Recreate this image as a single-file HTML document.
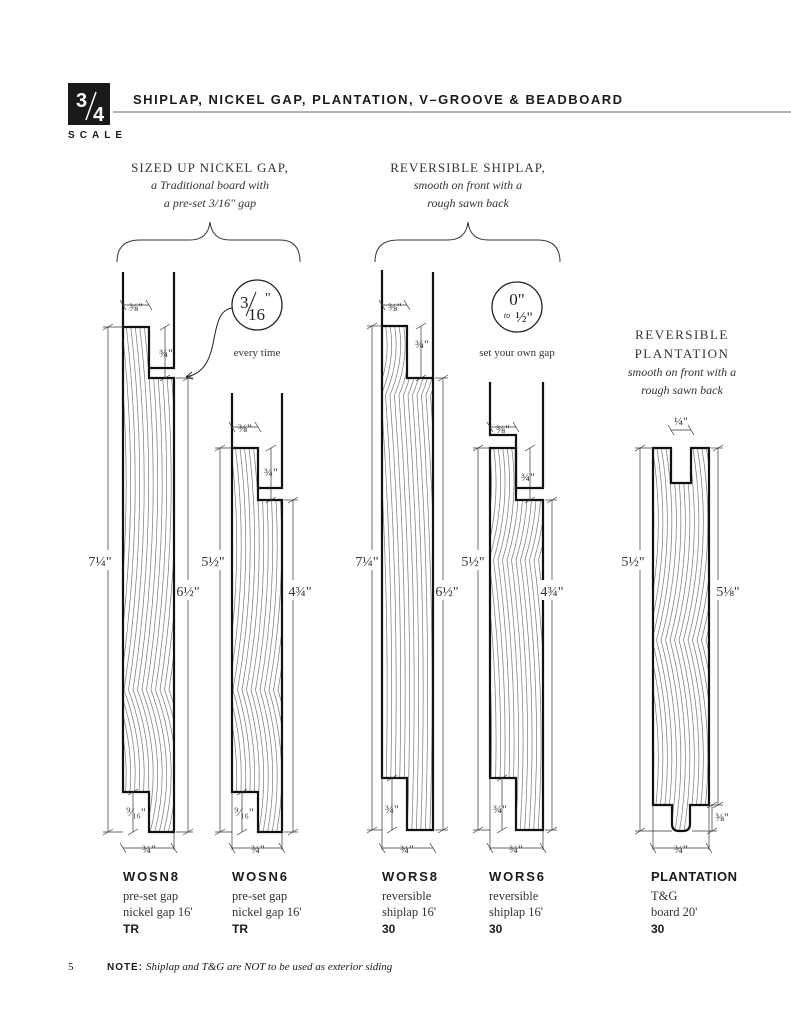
<!DOCTYPE html>
<html><head><meta charset="utf-8"><style>
html,body{margin:0;padding:0;background:#fff;}
svg{display:block}
.serif{font-family:"Liberation Serif",serif;}
.hd{font-family:"Liberation Sans",sans-serif;font-weight:bold;}
</style></head><body>
<svg id="s" width="791" height="1024" viewBox="0 0 791 1024" xmlns="http://www.w3.org/2000/svg">
<defs>
<clipPath id="c1"><path d="M123,327H149V378H174V832H149V792H123Z"/></clipPath>
<clipPath id="c2"><path d="M232,448H258V500H282V832H258V792H232Z"/></clipPath>
<clipPath id="c3"><path d="M382,326H407V378H433V830H407V778H382Z"/></clipPath>
<clipPath id="c4"><path d="M490,448H516V500H543V830H516V778H490Z"/></clipPath>
<clipPath id="c5"><path d="M653,448H671V483H691V448H709V805H690V824Q690,831 683,831H679Q672,831 672,824V805H653Z"/></clipPath>
</defs>
<!-- header -->
<rect x="68" y="83" width="42" height="42" fill="#1a1a1a"/>
<text x="76" y="107" fill="#fff" class="hd" font-size="20">3</text>
<line x1="86" y1="120" x2="96" y2="92" stroke="#fff" stroke-width="1.5"/>
<text x="93" y="121" fill="#fff" class="hd" font-size="20">4</text>
<text x="133" y="104" class="hd" font-size="13" textLength="489" lengthAdjust="spacing" fill="#1a1a1a">SHIPLAP, NICKEL GAP, PLANTATION, V–GROOVE &amp; BEADBOARD</text>
<line x1="113" y1="112" x2="791" y2="112" stroke="#999" stroke-width="1.5"/>
<text x="68" y="138" class="hd" font-size="10" textLength="54" lengthAdjust="spacing" fill="#1a1a1a">SCALE</text>
<!-- section titles -->
<g class="serif" fill="#333" text-anchor="middle">
<text x="210" y="172" font-size="13" letter-spacing="1">SIZED UP NICKEL GAP,</text>
<text x="210" y="189" font-size="12" font-style="italic">a Traditional board with</text>
<text x="210" y="207" font-size="12" font-style="italic">a pre-set 3/16" gap</text>
<text x="468" y="172" font-size="13" letter-spacing="1">REVERSIBLE SHIPLAP,</text>
<text x="468" y="189" font-size="12" font-style="italic">smooth on front with a</text>
<text x="468" y="207" font-size="12" font-style="italic">rough sawn back</text>
<text x="682" y="339" font-size="13" letter-spacing="1.5">REVERSIBLE</text>
<text x="682" y="358" font-size="13" letter-spacing="1.5">PLANTATION</text>
<text x="682" y="376" font-size="12" font-style="italic">smooth on front with a</text>
<text x="682" y="394" font-size="12" font-style="italic">rough sawn back</text>
<text x="257" y="356" font-size="11">every time</text>
<text x="517" y="356" font-size="11">set your own gap</text>
</g>
<!-- braces -->
<g fill="none" stroke="#333" stroke-width="1">
<path d="M117,262 Q117,240 140,240 H190 Q208,240 210,222 Q212,240 230,240 H280 Q300,240 300,262"/>
<path d="M375,262 Q375,240 398,240 H448 Q466,240 468,222 Q470,240 488,240 H538 Q560,240 560,262"/>
</g>
<!-- circles -->
<circle cx="257" cy="305" r="25" fill="none" stroke="#222" stroke-width="1.3"/>
<g class="serif" fill="#222">
<text x="240" y="308" font-size="17">3</text>
<line x1="246" y1="316" x2="256" y2="292" stroke="#222" stroke-width="1"/>
<text x="248" y="320" font-size="17">16</text>
<text x="265" y="302" font-size="14">"</text>
</g>
<path d="M232,308 C205,312 225,370 186,377" fill="none" stroke="#222" stroke-width="1"/>
<path d="M186,377 l6,-5 M186,377 l7,2" stroke="#222" stroke-width="1"/>
<circle cx="517" cy="307" r="25" fill="none" stroke="#222" stroke-width="1.3"/>
<text x="517" y="305" text-anchor="middle" class="serif" font-size="17" fill="#222">0"</text>
<text x="507" y="318" text-anchor="middle" class="serif" font-size="8" font-style="italic" fill="#222">to</text>
<text x="524" y="322" text-anchor="middle" class="serif" font-size="15" fill="#222">½"</text>
<g id="grain" fill="none" stroke="#777" stroke-width="0.7"></g>
<!-- outlines -->
<g fill="none" stroke="#111" stroke-width="2.2">
<path d="M123,272V327M174,272V368H149"/>
<path d="M123,327H149V378H174V832H149V792H123Z"/>
<path d="M232,393V448M282,393V488H258"/>
<path d="M232,448H258V500H282V832H258V792H232Z"/>
<path d="M382,270V326M433,272V378"/>
<path d="M382,326H407V378H433V830H407V778H382Z"/>
<path d="M490,382V435H516V488H543V382"/>
<path d="M490,448H516V500H543V830H516V778H490Z"/>
<path d="M653,448H671V483H691V448H709V805H690V824Q690,831 683,831H679Q672,831 672,824V805H653Z"/>
</g>
<g id="dims" stroke="#333" stroke-width="0.7" fill="none"></g>
<g class="serif" fill="#333">
<rect x="88" y="550" width="24" height="20" fill="#fff"/>
<rect x="176" y="580" width="24" height="20" fill="#fff"/>
<rect x="201" y="550" width="24" height="20" fill="#fff"/>
<rect x="288" y="580" width="24" height="20" fill="#fff"/>
<rect x="355" y="550" width="24" height="20" fill="#fff"/>
<rect x="435" y="580" width="24" height="20" fill="#fff"/>
<rect x="461" y="550" width="24" height="20" fill="#fff"/>
<rect x="540" y="580" width="24" height="20" fill="#fff"/>
<rect x="621" y="550" width="24" height="20" fill="#fff"/>
<rect x="716" y="580" width="24" height="20" fill="#fff"/>
<text x="100" y="566" text-anchor="middle" font-size="14">7¼"</text>
<text x="188" y="596" text-anchor="middle" font-size="14">6½"</text>
<text x="213" y="566" text-anchor="middle" font-size="14">5½"</text>
<text x="300" y="596" text-anchor="middle" font-size="14">4¾"</text>
<text x="367" y="566" text-anchor="middle" font-size="14">7¼"</text>
<text x="447" y="596" text-anchor="middle" font-size="14">6½"</text>
<text x="473" y="566" text-anchor="middle" font-size="14">5½"</text>
<text x="552" y="596" text-anchor="middle" font-size="14">4¾"</text>
<text x="633" y="566" text-anchor="middle" font-size="14">5½"</text>
<text x="728" y="596" text-anchor="middle" font-size="14">5⅛"</text>
<g font-size="12">
<text x="136" y="311" text-anchor="middle">⅜"</text>
<text x="166" y="357" text-anchor="middle">¾"</text>
<text x="136" y="816" text-anchor="middle">⁹⁄₁₆"</text>
<text x="149" y="853" text-anchor="middle">¾"</text>
<text x="245" y="432" text-anchor="middle">⅜"</text>
<text x="271" y="476" text-anchor="middle">¾"</text>
<text x="244" y="816" text-anchor="middle">⁹⁄₁₆"</text>
<text x="258" y="853" text-anchor="middle">¾"</text>
<text x="395" y="311" text-anchor="middle">⅜"</text>
<text x="422" y="348" text-anchor="middle">¾"</text>
<text x="392" y="813" text-anchor="middle">¾"</text>
<text x="407" y="853" text-anchor="middle">¾"</text>
<text x="503" y="433" text-anchor="middle">⅜"</text>
<text x="528" y="481" text-anchor="middle">¾"</text>
<text x="500" y="813" text-anchor="middle">¾"</text>
<text x="516" y="853" text-anchor="middle">¾"</text>
<text x="681" y="425" text-anchor="middle">¼"</text>
<text x="722" y="821" text-anchor="middle">⅜"</text>
<text x="681" y="853" text-anchor="middle">¾"</text>
</g>
</g>
<!-- product labels -->
<g fill="#1a1a1a">
<g class="hd" font-size="13">
<text x="123" y="881" textLength="55" lengthAdjust="spacing">WOSN8</text>
<text x="232" y="881" textLength="55" lengthAdjust="spacing">WOSN6</text>
<text x="382" y="881" textLength="55" lengthAdjust="spacing">WORS8</text>
<text x="489" y="881" textLength="55" lengthAdjust="spacing">WORS6</text>
<text x="651" y="881" textLength="86" lengthAdjust="spacing">PLANTATION</text>
</g>
<g class="serif" font-size="12.5" fill="#333">
<text x="123" y="900">pre-set gap</text><text x="123" y="916">nickel gap  16'</text>
<text x="232" y="900">pre-set gap</text><text x="232" y="916">nickel gap  16'</text>
<text x="382" y="900">reversible</text><text x="382" y="916">shiplap  16'</text>
<text x="489" y="900">reversible</text><text x="489" y="916">shiplap  16'</text>
<text x="651" y="900">T&amp;G</text><text x="651" y="916">board 20'</text>
</g>
<g class="hd" font-size="12">
<text x="123" y="933">TR</text><text x="232" y="933">TR</text>
<text x="382" y="933">30</text><text x="489" y="933">30</text><text x="651" y="933">30</text>
</g>
<text x="68" y="970" class="serif" font-size="11">5</text>
<text x="107" y="970" class="hd" font-size="10" textLength="35" lengthAdjust="spacing">NOTE:</text>
<text x="146" y="970" class="serif" font-size="11" font-style="italic">Shiplap and T&amp;G are NOT to be used as exterior siding</text>
</g>
</svg>
<script>
var NS="http://www.w3.org/2000/svg";
var g=document.getElementById('grain');
function grain(id,x0,x1,y0,y1,cy,bow,kink){
 var grp=document.createElementNS(NS,'g');grp.setAttribute('clip-path','url(#'+id+')');
 for(var x=x0-20;x<x1+20;x+=4.5){
  var d='M'+x+','+y0+' Q'+(x+bow)+','+((y0+cy)/2)+' '+(x+kink)+','+cy+' Q'+(x+bow)+','+((cy+y1)/2)+' '+x+','+y1;
  var p=document.createElementNS(NS,'path');p.setAttribute('d',d);grp.appendChild(p);
 }
 g.appendChild(grp);
}
grain('c1',123,174,320,840,690,22,-6);
grain('c2',232,282,440,840,690,16,-6);
grain('c3',382,433,320,840,395,8,-8);
grain('c4',490,543,440,840,560,10,-8);
grain('c5',653,709,440,840,640,18,-8);
var dg=document.getElementById('dims');
function L(a,b,c,d){var l=document.createElementNS(NS,'line');l.setAttribute('x1',a);l.setAttribute('y1',b);l.setAttribute('x2',c);l.setAttribute('y2',d);dg.appendChild(l);}
function V(x,y0,y1){L(x,y0,x,y1);L(x-5,y0+3,x+5,y0-3);L(x-5,y1+3,x+5,y1-3);}
function H(y,x0,x1){L(x0,y,x1,y);L(x0-3,y-5,x0+3,y+5);L(x1-3,y-5,x1+3,y+5);}
V(108,327,832);L(103,327,123,327);L(103,832,123,832);
V(188,378,832);L(176,378,193,378);L(176,832,193,832);
H(305,123,149);V(165,327,378);V(133,792,832);H(848,123,174);L(174,832,174,850);
V(220,448,832);L(215,448,232,448);L(215,832,232,832);
V(293,500,832);L(284,500,298,500);L(284,832,298,832);
H(427,232,258);V(271,448,500);V(242,792,832);H(848,232,282);L(282,832,282,850);L(232,792,232,850);
V(372,326,830);L(367,326,382,326);L(367,830,382,830);
V(443,378,830);L(435,378,448,378);L(435,830,448,830);
H(305,382,407);V(421,326,378);V(392,778,830);H(848,382,433);L(382,778,382,850);
V(478,448,830);L(473,448,490,448);L(473,830,490,830);
V(552,500,830);L(545,500,557,500);L(545,830,557,830);
H(427,490,516);V(530,448,500);V(502,778,830);H(848,490,543);L(490,778,490,850);L(543,830,543,850);
V(640,448,831);L(635,448,653,448);L(635,831,672,831);
V(718,448,805);L(711,448,723,448);L(711,805,723,805);V(712,805,831);L(692,831,717,831);
H(430,671,691);H(848,653,709);L(653,805,653,850);L(709,805,709,850);
</script>
</body></html>
